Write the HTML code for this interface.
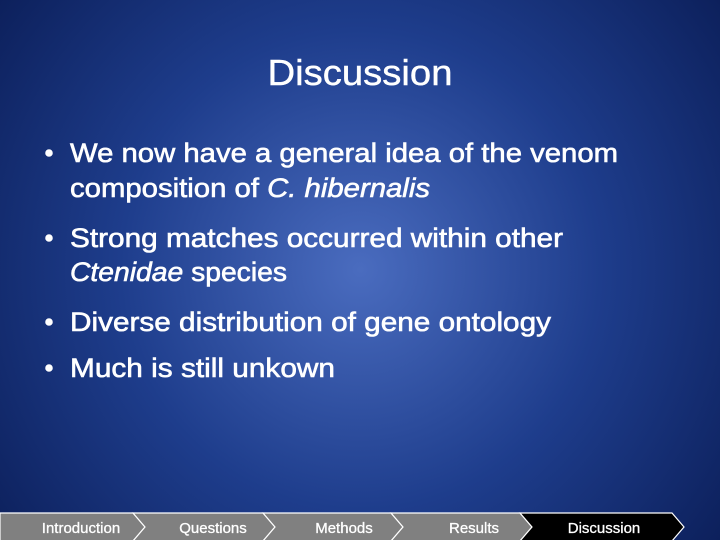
<!DOCTYPE html>
<html><head><meta charset="utf-8"><style>
html,body{margin:0;padding:0;width:720px;height:540px;overflow:hidden;}
svg{display:block;font-family:"Liberation Sans",sans-serif;}
</style></head><body>
<svg width="720" height="540" viewBox="0 0 720 540">
<defs>
<radialGradient id="bg" cx="360" cy="270" r="480" gradientUnits="userSpaceOnUse">
<stop offset="0" stop-color="#4a6cbf"/>
<stop offset="0.5" stop-color="#1e3d8c"/>
<stop offset="1" stop-color="#0a1c55"/>
</radialGradient>
</defs>
<rect width="720" height="540" fill="url(#bg)"/>
<text x="360" y="85" text-anchor="middle" font-size="36" fill="#fff" stroke="#fff" stroke-width="0.4" textLength="185" lengthAdjust="spacingAndGlyphs">Discussion</text>
<g fill="#fff" stroke="#fff" stroke-width="0.6" font-size="27">
<circle cx="49" cy="153" r="3.5"/>
<text x="70" y="162" textLength="548" lengthAdjust="spacingAndGlyphs">We now have a general idea of the venom</text>
<text x="70" y="197" textLength="360" lengthAdjust="spacingAndGlyphs">composition of <tspan font-style="italic">C. hibernalis</tspan></text>
<circle cx="49" cy="238" r="3.5"/>
<text x="70" y="247" textLength="493" lengthAdjust="spacingAndGlyphs">Strong matches occurred within other</text>
<text x="70" y="281" textLength="217" lengthAdjust="spacingAndGlyphs"><tspan font-style="italic">Ctenidae</tspan> species</text>
<circle cx="49" cy="322" r="3.5"/>
<text x="70" y="331" textLength="481" lengthAdjust="spacingAndGlyphs">Diverse distribution of gene ontology</text>
<circle cx="49" cy="368" r="3.5"/>
<text x="70" y="377" textLength="265" lengthAdjust="spacingAndGlyphs">Much is still unkown</text>
</g>
<g stroke="#fff" stroke-width="1.2">
<polygon points="0,513 133,513 145,527 133,541 0,541" fill="#808080"/>
<polygon points="133,513 263,513 275,527 263,541 133,541 145,527" fill="#808080"/>
<polygon points="263,513 391,513 403,527 391,541 263,541 275,527" fill="#808080"/>
<polygon points="391,513 520,513 532,527 520,541 391,541 403,527" fill="#808080"/>
<polygon points="520,513 672,513 684,527 672,541 520,541 532,527" fill="#000"/>
</g>
<g fill="#fff" stroke="#fff" stroke-width="0.3" font-size="15" text-anchor="middle">
<text x="81" y="533">Introduction</text>
<text x="213" y="533">Questions</text>
<text x="344" y="533">Methods</text>
<text x="474" y="533">Results</text>
<text x="604" y="533">Discussion</text>
</g>
</svg>
</body></html>
